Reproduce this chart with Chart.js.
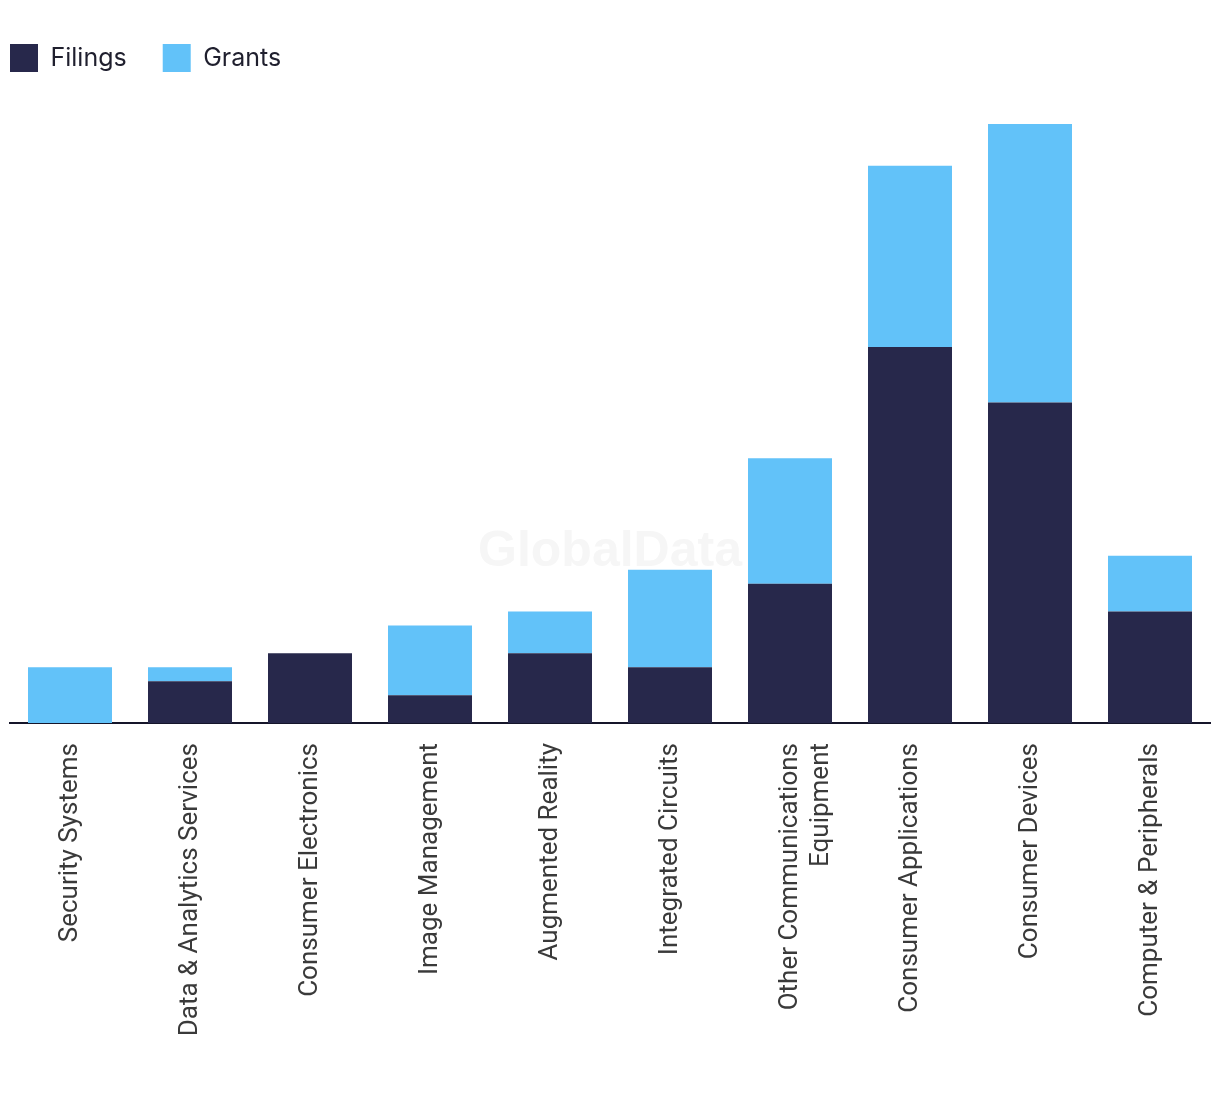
<!DOCTYPE html>
<html>
<head>
<meta charset="utf-8">
<script src="https://cdn.jsdelivr.net/npm/chart.js@4"></script>
<style>
  html, body { margin: 0; padding: 0; background: #fff; }
  #wrap { width: 1220px; height: 1094px; }
</style>
</head>
<body>
<div id="wrap"><canvas id="myChart"></canvas></div>
<script>
const categories = [
    'Security Systems',
    'Data & Analytics Services',
    'Consumer Electronics',
    'Image Management',
    'Augmented Reality',
    'Integrated Circuits',
    ['Other Communications', 'Equipment'],
    'Consumer Applications',
    'Consumer Devices',
    'Computer & Peripherals'
];
const filings = [0, 3, 5, 2, 5, 4, 10, 27, 23, 8];
const grants  = [4, 1, 0, 5, 3, 7, 9, 13, 20, 4];

const NAVY = '#27284b';
const BLUE = '#62c2f9';

// faint watermark behind the bars
const watermark = {
    id: 'watermark',
    beforeDatasetsDraw(chart) {
        const { ctx, chartArea } = chart;
        ctx.save();
        ctx.font = 'bold 50px "Liberation Sans", Arial, sans-serif';
        ctx.fillStyle = '#f6f6f6';
        ctx.textAlign = 'center';
        ctx.textBaseline = 'middle';
        ctx.fillText('GlobalData', chartArea.left + chartArea.width * 0.5, chartArea.top + chartArea.height * 0.73);
        ctx.restore();
    }
};

// extra space under the legend, and pull it to the left edge
const legendFix = {
    id: 'legendFix',
    beforeInit(chart) {
        const orig = chart.legend.fit;
        chart.legend.fit = function () {
            orig.bind(chart.legend)();
            this.height += 10;
        };
    },
    afterLayout(chart) {
        const lg = chart.legend;
        const shift = lg.left + lg.options.labels.padding - 10;
        lg.left -= shift;
        lg.right -= shift;
    }
};

const ctx = document.getElementById('myChart');
const myChart = new Chart(ctx, {
    type: 'bar',
    data: {
        labels: categories,
        datasets: [
            {
                label: 'Filings',
                data: filings,
                backgroundColor: NAVY,
                categoryPercentage: 1,
                barPercentage: 0.7
            },
            {
                label: 'Grants',
                data: grants,
                backgroundColor: BLUE,
                categoryPercentage: 1,
                barPercentage: 0.7
            }
        ]
    },
    options: {
        responsive: true,
        maintainAspectRatio: false,
        animation: false,
        layout: {
            padding: { left: 10, right: 10, top: 8, bottom: 0 }
        },
        plugins: {
            legend: {
                position: 'top',
                align: 'start',
                labels: {
                    boxWidth: 28,
                    boxHeight: 28,
                    padding: 36,
                    color: '#1f1f2e',
                    font: { family: 'Inter, "Liberation Sans", sans-serif', size: 25 }
                }
            },
            tooltip: { enabled: false }
        },
        scales: {
            x: {
                stacked: true,
                grid: { display: false, drawTicks: false },
                border: { display: true, color: '#15152a', width: 2 },
                ticks: {
                    autoSkip: false,
                    maxRotation: 90,
                    minRotation: 90,
                    padding: 20,
                    color: '#3a3a3a',
                    font: { family: 'Roboto, "Liberation Sans", sans-serif', size: 26 }
                },
                afterFit(scale) {
                    scale.height = 371;
                }
            },
            y: {
                stacked: true,
                display: false,
                min: 0,
                max: 45.3
            }
        }
    },
    plugins: [watermark, legendFix]
});
</script>
</body>
</html>
